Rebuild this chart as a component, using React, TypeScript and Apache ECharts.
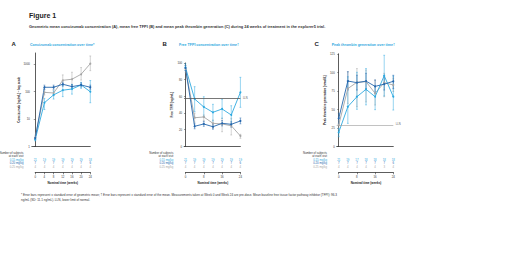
import React, { useEffect, useRef } from "react";
import * as echarts from "echarts";

// ---------- data ----------
const weeks = [0, 4, 8, 12, 16, 20, 24];
const doses = ["0.15 mg/kg", "0.20 mg/kg", "0.25 mg/kg"];

// Panel A: geometric mean concizumab concentration (ng/mL)
const concA015 = [1.8, 39, 75, 111, 123, 172, 98];
const concA020 = [2.0, 142, 142, 183, 150, 172, 142];
const concA025 = [2.1, 93, 88, 255, 278, 422, 1025];
const concA015Err = [[1.6, 2.1], [22, 56], [53, 104], [65, 172], [80, 180], [130, 215], [39, 250]];
const concA020Err = [[1.8, 2.2], [120, 170], [120, 170], [155, 220], [125, 180], [145, 205], [120, 170]];
const concA025Err = [[1.7, 2.6], [75, 115], [70, 110], [172, 400], [162, 500], [260, 740], [570, 1950]];

// Panel B: mean free TFPI (ng/mL)
const tfpiB015 = [94.8, 56.8, 47.2, 40.8, 44.8, 37.6, 64.8];
const tfpiB020 = [94, 24, 26.8, 23.5, 27.6, 26.4, 30.4];
const tfpiB025 = [93, 34.3, 35.2, 27.6, 26.8, 24.7, 12.4];
const tfpiB015Err = [[91, 99], [41.5, 71.6], [35.5, 59.5], [30.4, 50.4], [33.6, 56.4], [26.4, 48.7], [46.8, 82.8]];
const tfpiB020Err = [[91, 97], [21, 27], [24, 30], [20.5, 26.5], [24.5, 31], [23, 29.5], [27, 34]];
const tfpiB025Err = [[89, 97], [28.8, 39.6], [30.4, 37.6], [21.6, 31.6], [17.5, 33.6], [13.6, 33.6], [9.6, 14.4]];
const tfpiLLN = 58;

// Panel C: mean peak thrombin generation (nmol/L)
const thrC015 = [18.9, 53.5, 67, 77, 67, 95.4, 67];
const thrC020 = [37.8, 88.2, 86, 88, 81, 84, 87.8];
const thrC025 = [28.8, 78, 86.5, 87.3, 71.6, 86, 82.8];
const thrC015Err = [[13, 24.3], [31, 94], [50, 100], [56, 105], [49.5, 80.5], [68, 123], [49, 95]];
const thrC020Err = [[31, 44.6], [76, 100.8], [76, 96], [78, 98.6], [73, 89.6], [76, 94], [78, 96]];
const thrC025Err = [[22, 35], [58, 100.8], [53.5, 105], [60, 103], [55.8, 89.6], [67, 98.6], [74, 92]];
const thrLLN = 29;

// Number of subjects at each visit
const nA = [[21, 19, 19, 19, 19, 19, 18], [7, 7, 7, 7, 7, 7, 6], [4, 4, 4, 4, 4, 4, 4]];
const nB = [[21, 19, 19, 19, 19, 19, 19], [7, 7, 7, 7, 7, 7, 6], [4, 4, 4, 4, 4, 4, 4]];
const nC = [[21, 19, 17, 18, 18, 18, 18], [7, 7, 7, 7, 7, 7, 6], [4, 4, 4, 4, 4, 3, 4]];

const ticksA = [1, 10, 100, 1000];
const ticksB = [0, 20, 40, 60, 80, 100];
const ticksC = [0, 25, 50, 75, 100, 125];

// ---------- styling ----------
const FONT = "Liberation Sans, Arial, sans-serif";
const LIGHT = "#2ea9e0";
const DARK = "#2466ad";
const GRAY = "#a6a6a6";
const doseColors = [LIGHT, DARK, GRAY];
const AXIS = "#333";

const errRender = (color: string) => (params: any, api: any) => {
  const x = api.value(0);
  const lo = api.coord([x, api.value(1)]);
  const hi = api.coord([x, api.value(2)]);
  const w = 0.9;
  const st = { stroke: color, lineWidth: 0.5 };
  return {
    type: "group",
    children: [
      { type: "line", shape: { x1: lo[0], y1: lo[1], x2: hi[0], y2: hi[1] }, style: st },
      { type: "line", shape: { x1: lo[0] - w, y1: lo[1], x2: lo[0] + w, y2: lo[1] }, style: st },
      { type: "line", shape: { x1: hi[0] - w, y1: hi[1], x2: hi[0] + w, y2: hi[1] }, style: st },
    ],
  };
};

const tableRender = (params: any, api: any) => {
  const x = api.value(0);
  const row = Math.floor(params.dataIndex / weeks.length);
  const n = api.value(2);
  const p = api.coord([x, row]);
  return {
    type: "text",
    x: p[0],
    y: p[1],
    style: {
      text: String(n),
      fontSize: 2.8,
      fontFamily: FONT,
      fill: doseColors[row],
      align: "center",
      verticalAlign: "middle",
    },
  };
};

export default function App() {
  const ref = useRef<HTMLDivElement>(null);
  useEffect(() => {
    if (!ref.current) return;
    const chart = echarts.init(ref.current, undefined, { renderer: "svg" });

    const panels = [
      { left: 31.8, width: 58.5, xMin: -1.5, top: 53, height: 93.5, w0: 35.2, w24: 90.3, lm: 8.3, nameGap: 6 },
      { left: 184.1, width: 56.3, xMin: -0.6, top: 63, height: 83.3, w0: 185.5, w24: 240.4, lm: 10.8, nameGap: 8 },
      { left: 336.7, width: 56.6, xMin: -0.9, top: 53.8, height: 92.5, w0: 338.7, w24: 393.3, lm: 9.7, nameGap: 8 },
    ];

    const grids: any[] = [];
    const xAxes: any[] = [];
    const yAxes: any[] = [];
    const series: any[] = [];

    const yMain = [
      { type: "log", logBase: 10, min: 1, max: 2500, ticks: ticksA, name: "Concizumab (ng/mL) – log scale" },
      { type: "value", min: 0, max: 100, ticks: ticksB, name: "Free TFPI (ng/mL)" },
      { type: "value", min: 0, max: 125, ticks: ticksC, name: "Peak thrombin generation (nmol/L)" },
    ];

    panels.forEach((p, i) => {
      grids.push({ left: p.left, top: p.top, width: p.width, height: p.height });
      xAxes.push({
        gridIndex: i, type: "value", min: p.xMin, max: 24,
        axisLine: { show: true, lineStyle: { color: AXIS, width: 0.8 } },
        axisTick: { show: false }, axisLabel: { show: false }, splitLine: { show: false },
      });
      const ym = yMain[i];
      yAxes.push({
        gridIndex: i, type: ym.type, logBase: (ym as any).logBase, min: ym.min, max: ym.max,
        name: ym.name, nameLocation: "middle", nameGap: p.nameGap, nameRotate: 90,
        nameTextStyle: { fontSize: 3, fontFamily: FONT, color: "#222", fontWeight: "bold" },
        axisLine: { show: true, lineStyle: { color: AXIS, width: 0.8 } },
        axisTick: { show: true, length: 1.5, lineStyle: { color: AXIS, width: 0.5 }, customValues: ym.ticks },
        axisLabel: { fontSize: 2.8, fontFamily: FONT, color: "#333", margin: 2, customValues: ym.ticks, formatter: (v: number) => String(v) },
        splitLine: { show: false },
      });
    });

    // table grids (3..5)
    panels.forEach((p, i) => {
      grids.push({ left: p.left, top: 157.5, width: p.width, height: 10.5 });
      xAxes.push({ gridIndex: 3 + i, type: "value", min: p.xMin, max: 24, show: false });
      yAxes.push({
        gridIndex: 3 + i, type: "category", data: doses, inverse: true,
        axisLine: { show: false }, axisTick: { show: false }, splitLine: { show: false },
        axisLabel: {
          interval: 0, hideOverlap: false,
          fontSize: 2.8, fontFamily: FONT, margin: p.lm,
          formatter: (v: string) => `{r${doses.indexOf(v)}|${v}}`,
          rich: {
            r0: { color: LIGHT, fontSize: 2.8, fontFamily: FONT },
            r1: { color: DARK, fontSize: 2.8, fontFamily: FONT },
            r2: { color: GRAY, fontSize: 2.8, fontFamily: FONT },
          },
        },
      });
    });

    // bottom time axes (6..8)
    panels.forEach((p, i) => {
      grids.push({ left: p.w0, top: 171.3, width: p.w24 - p.w0, height: 1 });
      xAxes.push({
        gridIndex: 6 + i, type: "value", min: 0, max: 24, interval: i === 0 ? 4 : 8,
        name: "Nominal time (weeks)", nameLocation: "middle", nameGap: 8.5,
        nameTextStyle: { fontSize: 3, fontFamily: FONT, color: "#222", fontWeight: "bold" },
        axisLine: { show: true, lineStyle: { color: AXIS, width: 0.8 } },
        axisTick: { show: true, length: 2, lineStyle: { color: AXIS, width: 0.6 } },
        axisLabel: { fontSize: 2.8, fontFamily: FONT, color: "#333", margin: 2.5 },
        splitLine: { show: false },
      });
      yAxes.push({ gridIndex: 6 + i, type: "value", min: 0, max: 1, show: false });
      series.push({ type: "line", xAxisIndex: 6 + i, yAxisIndex: 6 + i, data: [], silent: true });
    });

    const mainData = [
      [concA025, concA015, concA020],
      [tfpiB025, tfpiB015, tfpiB020],
      [thrC025, thrC015, thrC020],
    ];
    const errData = [
      [concA025Err, concA015Err, concA020Err],
      [tfpiB025Err, tfpiB015Err, tfpiB020Err],
      [thrC025Err, thrC015Err, thrC020Err],
    ];
    const order = [GRAY, LIGHT, DARK];

    for (let i = 0; i < 3; i++) {
      for (let k = 0; k < 3; k++) {
        const color = order[k];
        series.push({
          type: "custom", xAxisIndex: i, yAxisIndex: i, silent: true,
          renderItem: errRender(color), encode: { x: 0, y: [1, 2] },
          data: weeks.map((w, j) => [w, errData[i][k][j][0], errData[i][k][j][1]]),
          z: 2,
        });
        const s: any = {
          type: "line", xAxisIndex: i, yAxisIndex: i, silent: true,
          data: weeks.map((w, j) => [w, mainData[i][k][j]]),
          symbol: "circle", symbolSize: 2,
          lineStyle: { color, width: 0.9 }, itemStyle: { color },
          z: 3,
        };
        if (k === 0 && i === 1) {
          s.markLine = {
            silent: true, symbol: "none",
            lineStyle: { color: "#555", width: 0.8, type: "solid" },
            label: { show: true, position: "end", formatter: "LLN", fontSize: 2.6, fontFamily: FONT, color: "#555", distance: 2.5 },
            data: [{ yAxis: tfpiLLN }],
          };
        }
        if (k === 0 && i === 2) {
          s.markLine = {
            silent: true, symbol: "none",
            lineStyle: { color: "#999", width: 0.6, type: "solid" },
            label: { show: true, position: "end", formatter: "LLN", fontSize: 2.6, fontFamily: FONT, color: "#555", distance: 2.5 },
            data: [{ yAxis: thrLLN }],
          };
        }
        series.push(s);
      }
      const nTab = [nA, nB, nC][i];
      const tdata: any[] = [];
      nTab.forEach((row, r) => row.forEach((n, j) => tdata.push([weeks[j], r, n])));
      series.push({
        type: "custom", xAxisIndex: 3 + i, yAxisIndex: 3 + i, silent: true,
        renderItem: tableRender, encode: { x: 0, y: 1 }, data: tdata,
      });
    }

    const txt = (text: string, x: number, y: number, size: number, opts: any = {}) => ({
      type: "text", x, y, silent: true,
      style: {
        text, fontSize: size, fontFamily: FONT, fill: opts.fill || "#222",
        fontWeight: opts.bold ? "bold" : "normal", align: opts.align || "left", verticalAlign: "middle",
      },
    });

    const graphic: any[] = [
      txt("Figure 1", 29, 15, 7, { bold: true }),
      txt("Geometric mean concizumab concentration (A), mean free TFPI (B) and mean peak thrombin generation (C) during 24 weeks of treatment in the explorer5 trial.", 29, 26.5, 3.95, { bold: true, fill: "#333" }),
      txt("A", 11.5, 44, 6, { bold: true }),
      txt("B", 162.5, 44, 6, { bold: true }),
      txt("C", 314.5, 44, 6, { bold: true }),
      txt("Concizumab concentration over time*", 30, 45, 3.6, { bold: true, fill: LIGHT }),
      txt("Free TFPI concentration over time†", 179, 45, 3.6, { bold: true, fill: LIGHT }),
      txt("Peak thrombin generation over time†", 331.7, 45, 3.6, { bold: true, fill: LIGHT }),
      txt("* Error bars represent ± standard error of geometric mean; † Error bars represent ± standard error of the mean. Measurements taken at Week 0 and Week 24 are pre-dose. Mean baseline free tissue factor pathway inhibitor (TFPI): 96.3", 21, 195, 3.05, { fill: "#333" }),
      txt("ng/mL (SD: 11.1 ng/mL). LLN, lower limit of normal.", 21, 200, 3.05, { fill: "#333" }),
    ];
    panels.forEach((p) => {
      const rx = p.left - p.lm;
      graphic.push(txt("Number of subjects", rx, 152.2, 2.8, { align: "right", fill: "#333" }));
      graphic.push(txt("at each visit", rx, 155.3, 2.8, { align: "right", fill: "#333" }));
    });

    chart.setOption({
      animation: false,
      backgroundColor: "#ffffff",
      grid: grids,
      xAxis: xAxes,
      yAxis: yAxes,
      series,
      graphic,
    });
    return () => chart.dispose();
  }, []);

  return (
    <div
      ref={ref}
      style={{ position: "fixed", left: 0, top: 0, width: 520, height: 270, background: "#fff" }}
    />
  );
}
